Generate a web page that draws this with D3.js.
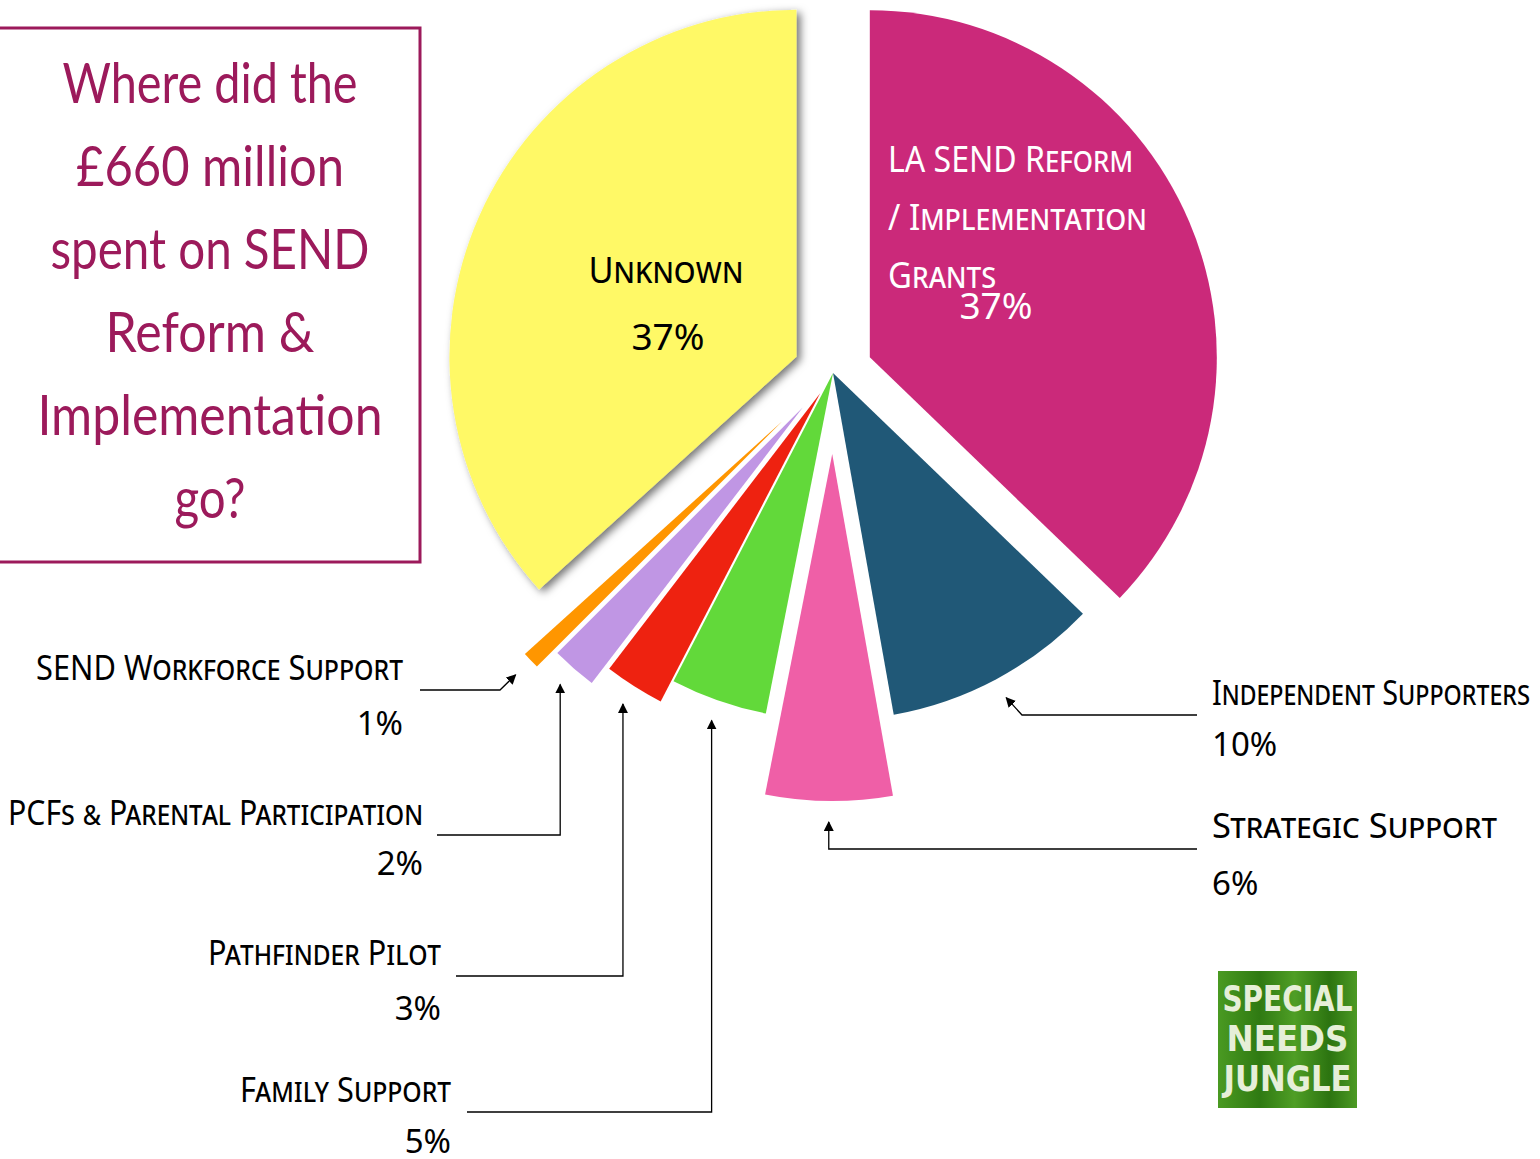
<!DOCTYPE html>
<html>
<head>
<meta charset="utf-8">
<script src="https://cdn.jsdelivr.net/npm/d3@7"></script>
<style>
  body { margin: 0; background: #fff; }
  svg { display: block; }
</style>
</head>
<body>
<svg width="1540" height="1159"></svg>
<script>
// slices, clockwise from 12 o'clock
const categories = ["LA SEND Reform / Implementation Grants", "Independent Supporters", "Strategic Support",
    "Family Support", "Pathfinder Pilot", "PCFs & Parental Participation", "SEND Workforce Support", "Unknown"];
const shares = [37.2, 10.0, 5.9, 4.5, 2.8, 2.1, 0.8, 36.7];
const colors = ["#cb297a", "#205877", "#ef5fa7", "#62d93a", "#ee2210", "#c096e4", "#ff9600", "#fff966"];
const explode = [40, 0, 81, 0, 24, 46, 70, 40];

const titleLines = ["Where did the", "£660 million", "spent on SEND", "Reform &", "Implementation", "go?"];

const svg = d3.select("svg");
const cx = 833, cy = 373, R = 347;
const labelFont = "'Noto Sans', sans-serif";

const data = categories.map((c, i) => ({name: c, value: shares[i], color: colors[i], explode: explode[i]}));

const defs = svg.append("defs");
const shadow = defs.append("filter").attr("id", "shadow")
    .attr("x", "-10%").attr("y", "-10%").attr("width", "130%").attr("height", "130%");
shadow.append("feDropShadow")
    .attr("dx", 4).attr("dy", 3).attr("stdDeviation", 4)
    .attr("flood-color", "#000").attr("flood-opacity", 0.55);

defs.append("marker").attr("id", "arrow")
    .attr("viewBox", "0 0 10 10").attr("refX", 9).attr("refY", 5)
    .attr("markerWidth", 10).attr("markerHeight", 10)
    .attr("markerUnits", "userSpaceOnUse").attr("orient", "auto")
  .append("path").attr("d", "M0,0L10,5L0,10z").attr("fill", "#000");

// title box (left edge sits off the page)
svg.append("rect")
    .attr("x", -2).attr("y", 28).attr("width", 422).attr("height", 534)
    .attr("fill", "none").attr("stroke", "#9c1a5b").attr("stroke-width", 3);

const titleWidths = [295, 268, 319, 209, 345, 71];
svg.append("g").selectAll("text")
    .data(titleLines)
    .join("text")
    .attr("x", 210)
    .attr("y", (d, i) => 103 + i * 83)
    .attr("text-anchor", "middle")
    .attr("textLength", (d, i) => titleWidths[i])
    .attr("lengthAdjust", "spacingAndGlyphs")
    .style("font-family", "Lato, sans-serif")
    .style("font-size", "56px")
    .style("fill", "#9c1a5b")
    .text(d => d);

// pie
const pie = d3.pie().sort(null).value(d => d.value);
const arcs = pie(data);
const arc = d3.arc().innerRadius(0).outerRadius(R);

function along(a, r) {
    const m = (a.startAngle + a.endAngle) / 2;
    return [Math.sin(m) * r, -Math.cos(m) * r];
}

const pieG = svg.append("g").attr("transform", `translate(${cx}, ${cy})`);
pieG.selectAll("path")
    .data(arcs)
    .join("path")
    .attr("d", arc)
    .attr("transform", d => `translate(${along(d, d.data.explode)})`)
    .attr("fill", d => d.data.color)
    .attr("filter", d => d.index === 7 ? "url(#shadow)" : null);

// labels inside the two big slices
const inside = [
    {i: 0, lines: ["LA SEND Reform", "/ Implementation", "Grants"], widths: [245, 259, 108],
        x: 888, y: 172, step: 58, anchor: "start", px: 996, py: 319, color: "#fff"},
    {i: 7, lines: ["Unknown"], widths: [155],
        x: 666, y: 283, step: 58, anchor: "middle", px: 668, py: 350, color: "#000"}
];
inside.forEach(l => {
    const g = svg.append("g").style("font-family", labelFont).style("fill", l.color);
    l.lines.forEach((t, k) => {
        g.append("text")
            .attr("x", l.x).attr("y", l.y + k * l.step)
            .attr("text-anchor", l.anchor)
            .attr("textLength", l.widths[k])
            .attr("lengthAdjust", "spacingAndGlyphs")
            .style("font-size", "37px")
            .style("font-variant", "small-caps")
            .text(t);
    });
    g.append("text")
        .attr("x", l.px).attr("y", l.py)
        .attr("text-anchor", "middle")
        .style("font-size", "37px")
        .text(Math.round(shares[l.i]) + "%");
});

// labels outside with leader lines
const outside = [
    {i: 1, x: 1212, y: 705, py: 756, anchor: "start", w: 318, lx: 1197, ly: 715, elbow: 1022},
    {i: 2, x: 1212, y: 838, py: 895, anchor: "start", w: 285, lx: 1197, ly: 849},
    {i: 3, x: 451, y: 1102, py: 1153, anchor: "end", w: 211, lx: 467, ly: 1112},
    {i: 4, x: 441, y: 965, py: 1020, anchor: "end", w: 233, lx: 456, ly: 976},
    {i: 5, x: 423, y: 825, py: 875, anchor: "end", w: 415, lx: 437, ly: 835},
    {i: 6, x: 403, y: 680, py: 735, anchor: "end", w: 367, lx: 420, ly: 690, elbow: 500}
];

outside.forEach(l => {
    const a = arcs[l.i];
    const tip = along(a, R + a.data.explode + 21);
    const tx = cx + tip[0], ty = cy + tip[1];
    const ex = l.elbow !== undefined ? l.elbow : tx;

    svg.append("path")
        .attr("d", `M${l.lx},${l.ly}L${ex},${l.ly}L${tx},${ty}`)
        .attr("fill", "none")
        .attr("stroke", "#000")
        .attr("stroke-width", 1.3)
        .attr("marker-end", "url(#arrow)");

    const g = svg.append("g").style("font-family", labelFont).style("fill", "#000");
    g.append("text")
        .attr("x", l.x).attr("y", l.y)
        .attr("text-anchor", l.anchor)
        .attr("textLength", l.w)
        .attr("lengthAdjust", "spacingAndGlyphs")
        .style("font-size", "35px")
        .style("font-variant", "small-caps")
        .text(categories[l.i]);
    g.append("text")
        .attr("x", l.x).attr("y", l.py)
        .attr("text-anchor", l.anchor)
        .style("font-size", "33px")
        .text(Math.round(shares[l.i]) + "%");
});

// logo
const logo = svg.append("g").attr("transform", "translate(1218, 971)");
const grad = defs.append("linearGradient").attr("id", "jungle").attr("x1", 0).attr("x2", 1);
[["0%", "#4a9a22"], ["30%", "#2f7a12"], ["55%", "#4f9e25"], ["80%", "#2c7410"], ["100%", "#4c9a24"]]
    .forEach(s => grad.append("stop").attr("offset", s[0]).attr("stop-color", s[1]));
logo.append("rect").attr("width", 139).attr("height", 137).attr("fill", "url(#jungle)");
["SPECIAL", "NEEDS", "JUNGLE"].forEach((t, k) => {
    logo.append("text")
        .attr("x", 69.5).attr("y", 40 + k * 40)
        .attr("text-anchor", "middle")
        .attr("textLength", [130, 122, 128][k])
        .attr("lengthAdjust", "spacingAndGlyphs")
        .style("font-family", "'DejaVu Sans', sans-serif")
        .style("font-weight", "bold")
        .style("font-size", "36px")
        .style("fill", "#e6efd8")
        .text(t);
});
</script>
</body>
</html>
